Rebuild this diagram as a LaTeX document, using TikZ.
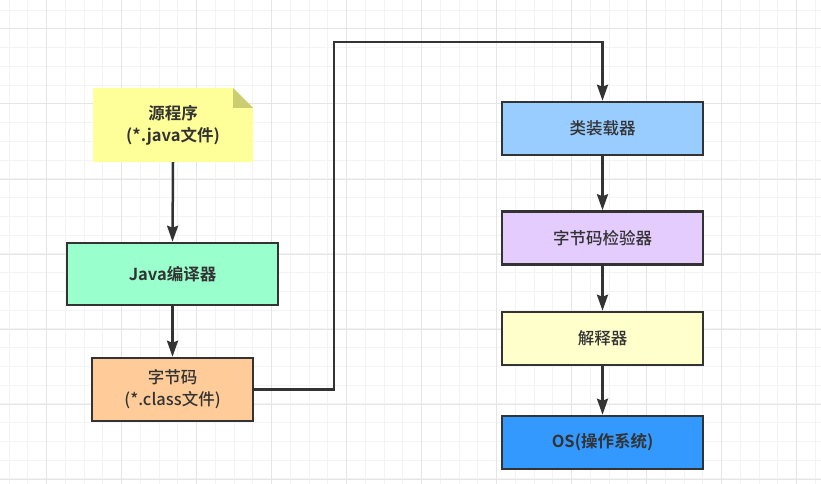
\documentclass[tikz,border=0pt]{standalone}
\usepackage{fontspec}
\setmainfont{Noto Sans CJK SC Medium}[BoldFont={Noto Sans CJK SC Bold}]
\usepackage{tikz}
\usetikzlibrary{arrows.meta}

\definecolor{linegray}{HTML}{333333}
\definecolor{gridminor}{HTML}{F3F3F3}
\definecolor{gridmajor}{HTML}{E5E5E5}
\definecolor{notefill}{HTML}{FFFF99}
\definecolor{notefold}{HTML}{CCCC70}
\definecolor{javafill}{HTML}{99FFCC}
\definecolor{bytefill}{HTML}{FFCC99}
\definecolor{loadfill}{HTML}{99CCFF}
\definecolor{checkfill}{HTML}{E5CCFF}
\definecolor{interpfill}{HTML}{FFFFCC}
\definecolor{osfill}{HTML}{3399FF}

\begin{document}
\begin{tikzpicture}[
    x=1pt, y=-1pt,
    box/.style={draw=linegray, line width=2.5pt, text=linegray, align=center,
        minimum width=#1, minimum height=53pt, inner sep=0pt,
        font=\fontsize{16.5}{22}\selectfont},
    box/.default=201pt,
    flow/.style={draw=linegray, line width=2.5pt,
        -{Stealth[length=16pt, width=11pt, inset=2pt]}}
]
    \useasboundingbox (0,0) rectangle (821,484);
    % Background grid
    \foreach \i in {0,...,43} {
        \draw[gridminor, line width=1pt] ({9.2+18.75*\i},0) -- ++(0,484);
    }
    \foreach \i in {0,...,25} {
        \draw[gridminor, line width=1pt] (0,{10.2+18.75*\i}) -- ++(821,0);
    }
    \foreach \i in {0,...,10} {
        \draw[gridmajor, line width=1pt] ({46.7+75*\i},0) -- ++(0,484);
    }
    \foreach \i in {0,...,6} {
        \draw[gridmajor, line width=1pt] (0,{29+75*\i}) -- ++(821,0);
    }
    % Note with folded corner
    \fill[notefill] (93,162) -- (93,88) -- (233,88) -- (253,108) -- (253,162) -- cycle;
    \fill[notefold] (233,88) -- (233,108) -- (253,108) -- cycle;
    \node[text=linegray, align=center, minimum width=160pt, minimum height=74pt,
        inner sep=0pt, font=\fontsize{16.5}{22}\selectfont\bfseries] (src) at (173,125)
        {源程序\\(*.java文件)};
    % Left column
    \node[box=211pt, minimum height=62pt, fill=javafill, font=\fontsize{16.5}{22}\selectfont\bfseries]
        (javac) at (172.5,274) {Java编译器};
    \node[box=161pt, minimum height=63pt, fill=bytefill] (bytecode) at (172.5,389.5)
        {字节码\\(*.class文件)};
    % Right column
    \node[box, fill=loadfill] (loader) at (602.5,128.5) {类装载器};
    \node[box, fill=checkfill] (verifier) at (602.5,238) {字节码检验器};
    \node[box, fill=interpfill] (interp) at (602.5,338.5) {解释器};
    \node[box, fill=osfill, font=\fontsize{16.5}{22}\selectfont\bfseries] (os) at (602.5,442.5)
        {OS(操作系统)};
    % Connectors
    \draw[flow] (src.south) -- (javac.north);
    \draw[flow] (javac.south) -- (bytecode.north);
    \draw[flow] (bytecode.east) -| (334,42) -| (loader.north);
    \draw[flow] (loader.south) -- (verifier.north);
    \draw[flow] (verifier.south) -- (interp.north);
    \draw[flow] (interp.south) -- (os.north);
\end{tikzpicture}
\end{document}
